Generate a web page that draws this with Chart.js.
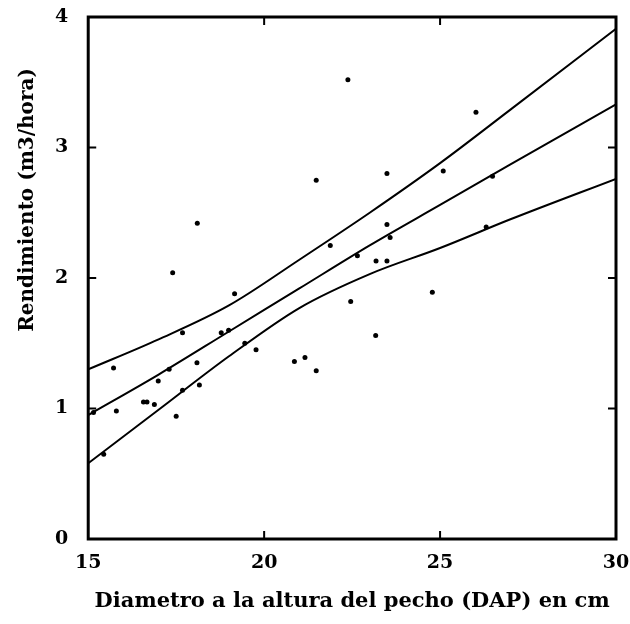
<!DOCTYPE html>
<html>
<head>
<meta charset="utf-8">
<script src="https://cdn.jsdelivr.net/npm/chart.js@4.4.1/dist/chart.umd.min.js"></script>
<style>
  html, body { margin: 0; padding: 0; background: #fff; }
  #wrap { width: 630px; height: 624px; }
</style>
</head>
<body>
<div id="wrap"><canvas id="mycanvas" width="630" height="624"></canvas></div>
<script>
// observed points: DAP (cm) and rendimiento (m3/hora)
var dap = [22.38, 21.48, 18.10, 17.40, 21.88, 26.02, 23.49, 25.09, 26.49, 23.49,
           23.58, 22.65, 23.18, 23.49, 26.31, 19.16, 22.46, 17.68, 18.78, 18.99,
           19.45, 19.77, 20.86, 21.16, 21.48, 15.72, 18.09, 17.30, 16.99, 15.80,
           16.57, 16.67, 16.88, 17.50, 17.68, 18.16, 15.44, 24.78, 23.17, 15.15];
var rend = [3.52, 2.75, 2.42, 2.04, 2.25, 3.27, 2.80, 2.82, 2.78, 2.41,
            2.31, 2.17, 2.13, 2.13, 2.39, 1.88, 1.82, 1.58, 1.58, 1.60,
            1.50, 1.45, 1.36, 1.39, 1.29, 1.31, 1.35, 1.30, 1.21, 0.98,
            1.05, 1.05, 1.03, 0.94, 1.14, 1.18, 0.65, 1.89, 1.56, 0.97];

// regression line and confidence band
var lineX = [15, 17, 19, 21, 23, 25, 27, 30];
var fitY = [0.95, 1.26, 1.59, 1.92, 2.25, 2.56, 2.87, 3.33];
var upperY = [1.30, 1.53, 1.79, 2.14, 2.50, 2.88, 3.29, 3.91];
var lowerY = [0.58, 0.99, 1.40, 1.77, 2.03, 2.23, 2.45, 2.76];

var xTicks = [15, 20, 25, 30];
var yTicks = [0, 1, 2, 3, 4];

var FONT = '"DejaVu Serif", "Liberation Serif", serif';

function toPts(xs, ys) {
  var out = [];
  for (var i = 0; i < xs.length; i++) out.push({ x: xs[i], y: ys[i] });
  return out;
}

function lineSet(ys) {
  return {
    type: 'line',
    data: toPts(lineX, ys),
    borderColor: '#000',
    borderWidth: 2,
    pointRadius: 0,
    cubicInterpolationMode: 'monotone',
    fill: false
  };
}

// frame, inner tick marks and the rotated y title
var framePlugin = {
  id: 'frame',
  afterDraw: function(chart) {
    var ctx = chart.ctx, a = chart.chartArea;
    var xs = chart.scales.x, ys = chart.scales.y;
    ctx.save();
    ctx.strokeStyle = '#000';
    ctx.lineWidth = 3;
    ctx.strokeRect(a.left, a.top, a.right - a.left, a.bottom - a.top);
    ctx.lineWidth = 2;
    ctx.beginPath();
    xTicks.slice(1, -1).forEach(function(v) {
      var px = xs.getPixelForValue(v);
      ctx.moveTo(px, a.bottom); ctx.lineTo(px, a.bottom - 8);
      ctx.moveTo(px, a.top); ctx.lineTo(px, a.top + 8);
    });
    yTicks.slice(1, -1).forEach(function(v) {
      var py = ys.getPixelForValue(v);
      ctx.moveTo(a.left, py); ctx.lineTo(a.left + 8, py);
      ctx.moveTo(a.right, py); ctx.lineTo(a.right - 8, py);
    });
    ctx.stroke();

    ctx.translate(28, 200);
    ctx.rotate(-Math.PI / 2);
    ctx.fillStyle = '#000';
    ctx.font = 'bold 20px ' + FONT;
    ctx.textAlign = 'center';
    ctx.textBaseline = 'middle';
    ctx.fillText('Rendimiento (m3/hora)', 0, 0);
    ctx.restore();
  }
};

var x = document.getElementById('mycanvas');
var chart = new Chart(x, {
  type: 'scatter',
  data: {
    datasets: [
      lineSet(upperY),
      lineSet(fitY),
      lineSet(lowerY),
      {
        type: 'scatter',
        data: toPts(dap, rend),
        backgroundColor: '#000',
        borderColor: '#000',
        pointRadius: 2.5,
        borderWidth: 0
      }
    ]
  },
  options: {
    responsive: false,
    animation: false,
    layout: { padding: { left: 43, right: 14, top: 17, bottom: 4 } },
    plugins: { legend: { display: false }, tooltip: { enabled: false } },
    scales: {
      x: {
        type: 'linear',
        min: 15, max: 30,
        grid: { display: false },
        border: { display: false },
        afterBuildTicks: function(s) { s.ticks = xTicks.map(function(v) { return { value: v }; }); },
        afterFit: function(s) { s.paddingLeft = 0; s.paddingRight = 0; },
        ticks: { color: '#000', padding: 5, maxRotation: 0, font: { family: FONT, size: 19, weight: 'bold' } },
        title: {
          display: true,
          text: 'Diametro a la altura del pecho (DAP) en cm',
          color: '#000',
          padding: { top: 9, bottom: 6 },
          font: { family: FONT, size: 21, weight: 'bold' }
        }
      },
      y: {
        min: 0, max: 4,
        grid: { display: false },
        border: { display: false },
        afterBuildTicks: function(s) { s.ticks = yTicks.map(function(v) { return { value: v }; }); },
        afterFit: function(s) { s.paddingTop = 0; s.paddingBottom = 0; },
        ticks: { color: '#000', padding: 12, font: { family: FONT, size: 19, weight: 'bold' } }
      }
    }
  },
  plugins: [framePlugin]
});
</script>
</body>
</html>
